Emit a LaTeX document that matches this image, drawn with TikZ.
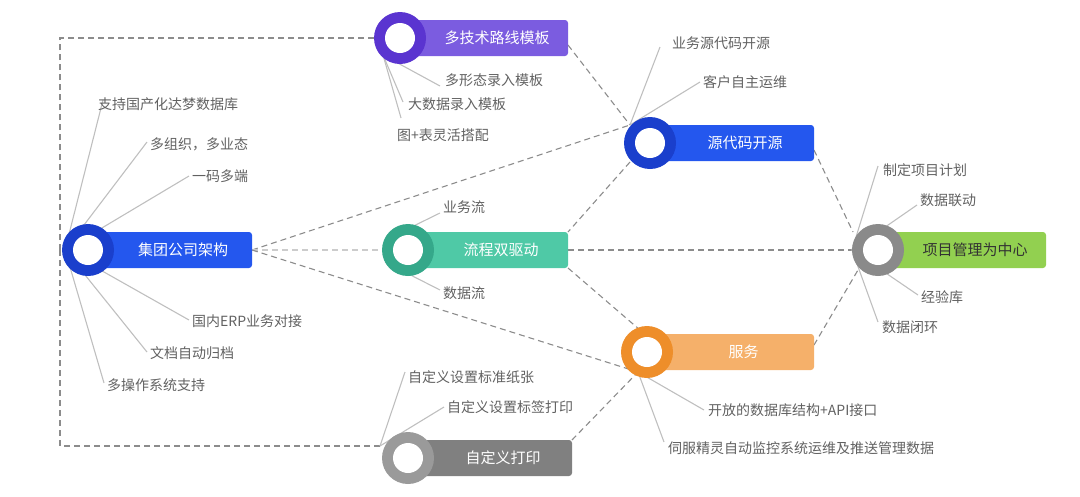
\documentclass[tikz,border=0pt]{standalone}
\usepackage{fontspec}
\setmainfont{Noto Sans CJK SC}
\begin{document}
\begin{tikzpicture}[x=1pt,y=-1pt,
  leaf/.style={font=\fontsize{14}{16}\selectfont,text=black!62,anchor=west,inner sep=0pt},
  ln/.style={draw=black!25,line width=1.1pt},
  dl/.style={draw=black!45,dashed,dash pattern=on 6pt off 4pt,line width=1.1pt},
  bartext/.style={font=\fontsize{15}{17}\selectfont,text=white,inner sep=0pt}]
\useasboundingbox (0,0) rectangle (1080,496);
\definecolor{cblue}{HTML}{2457EE}\definecolor{cblueD}{HTML}{1A3FCC}
\definecolor{cpur}{HTML}{7B5CE0}\definecolor{cpurD}{HTML}{5A34D0}
\definecolor{cteal}{HTML}{4FC9A6}\definecolor{ctealD}{HTML}{35A88A}
\definecolor{cgrn}{HTML}{92D050}\definecolor{cgrnD}{HTML}{8A8A8A}
\definecolor{corg}{HTML}{F5B06A}\definecolor{corgD}{HTML}{EE8E2A}
\definecolor{cgry}{HTML}{808080}\definecolor{cgryD}{HTML}{9A9A9A}
% nodes: macro for bar+circle
\newcommand\mybar[8]{% name, cx, cy, xend, fill, ring, text, textcolor
  \fill[#5,rounded corners=3pt] (#2,#3-18) rectangle (#4,#3+18);
  \fill[#6] (#2,#3) circle (26);
  \fill[white] (#2,#3) circle (15);
  \coordinate (#1c) at (#2,#3);
  \coordinate (#1e) at (#4,#3);
  \node[bartext,text=#8] (#1) at ({(#2+26+#4)/2},#3) {#7};}
% dashed connectors first
\coordinate (tl) at (60,38); \coordinate (bl) at (60,446);
\coordinate (jl) at (60,250);
\coordinate (jr) at (252,250); \coordinate (pr) at (568,45);
\coordinate (yc) at (630,125); \coordinate (yb) at (630,162);
\coordinate (lr) at (568,232); \coordinate (lm) at (568,250); \coordinate (lb) at (568,268);
\coordinate (xr) at (814,150); \coordinate (xc) at (853,232);
\coordinate (xm) at (852,250); \coordinate (xb) at (858,270);
\coordinate (fc) at (638,372); \coordinate (ft) at (640,330); \coordinate (fr) at (814,345);
\coordinate (zr) at (572,440); \coordinate (zl) at (380,446);
\coordinate (pl) at (375,38); \coordinate (ll) at (382,250);
\draw[dl] (jl) -- (tl) -- (pl);
\draw[dl] (jl) -- (bl) -- (zl);
\draw[dl] (jr) -- (yc);
\draw[dl,draw=black!20] (jr) -- (ll);
\draw[dl] (jr) -- (fc);
\draw[dl] (pr) -- (yc);
\draw[dl] (yb) -- (lr);
\draw[dl] (lm) -- (xm);
\draw[dl] (lb) -- (ft);
\draw[dl] (xr) -- (xc);
\draw[dl] (fr) -- (xb);
\draw[dl] (zr) -- (fc);
% leaf lines
\coordinate (j0) at (65,250);
\foreach \p/\t/\q in {{(98,104)}/支持国产化达梦数据库/{(103,100)},{(150,144)}/多组织，多业态/{(147,142)},{(192,176)}/一码多端/{(189,176)},{(192,321)}/国内ERP业务对接/{(189,320)},{(150,353)}/文档自动归档/{(147,352)},{(107,385)}/多操作系统支持/{(104,383)}}
  {\draw[ln] (j0) -- \q; \node[leaf] at \p {\t};}
\coordinate (p0) at (383,55);
\draw[ln] (p0) -- (440,86); \node[leaf] at (445,80) {多形态录入模板};
\draw[ln] (p0) -- (403,102); \node[leaf] at (408,104) {大数据录入模板};
\draw[ln] (p0) -- (401,118); \node[leaf] at (397,135) {图+表灵活搭配};
\draw[ln] (yc) -- (660,47); \node[leaf] at (672,43) {业务源代码开源};
\draw[ln] (yc) -- (700,82); \node[leaf] at (703,82) {客户自主运维};
\coordinate (l0) at (385,240);\coordinate (l1) at (385,262);
\draw[ln] (l0) -- (440,213); \node[leaf] at (443,207) {业务流};
\draw[ln] (l1) -- (440,290); \node[leaf] at (443,293) {数据流};
\draw[ln] (xm) -- (878,166); \node[leaf] at (883,170) {制定项目计划};
\draw[ln] (xm) -- (917,205); \node[leaf] at (920,200) {数据联动};
\draw[ln] (xm) -- (918,295); \node[leaf] at (921,297) {经验库};
\draw[ln] (xm) -- (878,322); \node[leaf] at (882,327) {数据闭环};
\draw[ln] (fc) -- (704,410); \node[leaf] at (708,410) {开放的数据库结构+API接口};
\draw[ln] (fc) -- (664,442); \node[leaf] at (668,448) {伺服精灵自动监控系统运维及推送管理数据};
\draw[ln] (zl) -- (405,372); \node[leaf] at (408,377) {自定义设置标准纸张};
\draw[ln] (zl) -- (444,407); \node[leaf] at (447,407) {自定义设置标签打印};
% bars
\mybar{jt}{88}{250}{252}{cblue}{cblueD}{集团公司架构}{white}
\mybar{dj}{400}{38}{568}{cpur}{cpurD}{多技术路线模板}{white}
\mybar{ym}{650}{143}{814}{cblue}{cblueD}{源代码开源}{white}
\mybar{lc}{408}{250}{568}{cteal}{ctealD}{流程双驱动}{white}
\mybar{xm}{878}{250}{1046}{cgrn}{cgrnD}{项目管理为中心}{black!80}
\mybar{fw}{647}{352}{814}{corg}{corgD}{服务}{white}
\mybar{zd}{408}{458}{572}{cgry}{cgryD}{自定义打印}{white}
\end{tikzpicture}
\end{document}
